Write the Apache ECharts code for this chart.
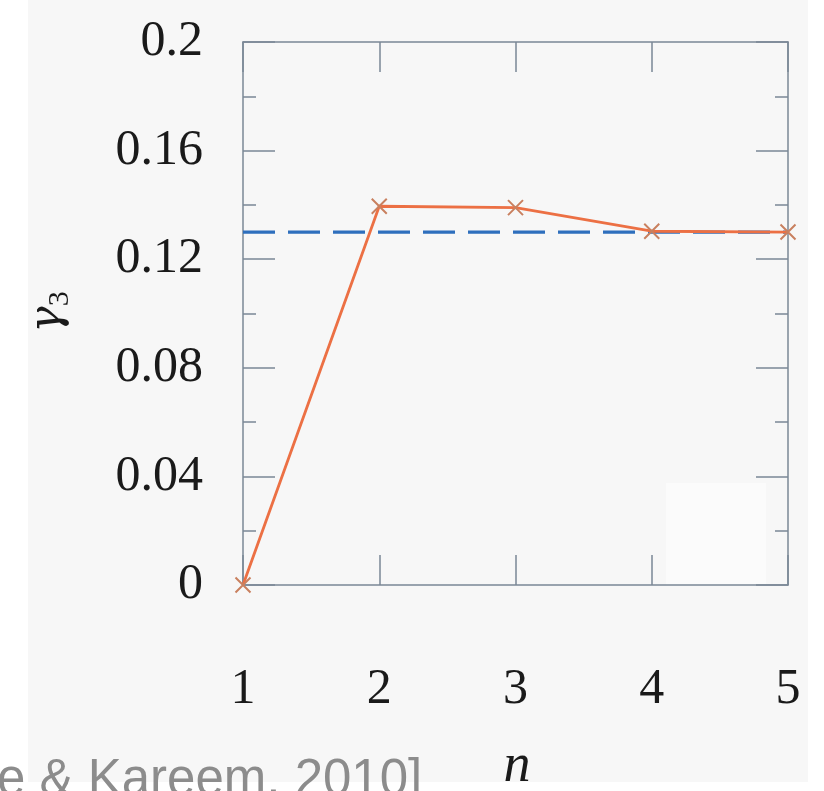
<!DOCTYPE html>
<html><head><meta charset="utf-8">
<script src="https://cdn.jsdelivr.net/npm/echarts@6/dist/echarts.min.js"></script>
<style>html,body{margin:0;padding:0;background:#fff}#c{width:824px;height:791px}</style>
</head><body><div id="c"></div>
<script>
const categories = [1, 2, 3, 4, 5];
const gammaValues = [0, 0.1395, 0.139, 0.1303, 0.1300];
const referenceValue = 0.13;
const xTickLabels = ['1', '2', '3', '4', '5'];
const yTickLabels = ['0', '0.04', '0.08', '0.12', '0.16', '0.2'];

const axisColor = '#7b8896';
const serif = '"Liberation Serif", "DejaVu Serif", serif';

const chart = echarts.init(document.getElementById('c'), null, { renderer: 'canvas' });

const xBase = {
  type: 'value', min: 1, max: 5, interval: 1,
  axisLine: { show: true, onZero: false, lineStyle: { color: axisColor, width: 1.5 } },
  axisTick: { show: true, inside: true, length: 30, lineStyle: { color: axisColor, width: 1.5 } },
  splitLine: { show: false }
};
const yBase = {
  type: 'value', min: 0, max: 0.2, interval: 0.04,
  axisLine: { show: true, onZero: false, lineStyle: { color: axisColor, width: 1.5 } },
  axisTick: { show: true, inside: true, length: 32, lineStyle: { color: axisColor, width: 1.5 } },
  minorTick: { show: true, splitNumber: 2, length: 13, lineStyle: { color: axisColor, width: 1.5 } },
  splitLine: { show: false }
};

const option = {
  backgroundColor: '#ffffff',
  animation: false,
  grid: { left: 243, right: 36, top: 42, bottom: 206, containLabel: false },
  xAxis: [
    Object.assign({}, xBase, {
      position: 'bottom',
      axisLabel: {
        show: true, margin: 80, color: '#1a1a1a', fontFamily: serif, fontSize: 50,
        formatter: (v) => xTickLabels[categories.indexOf(v)]
      }
    }),
    Object.assign({}, xBase, { position: 'top', axisLabel: { show: false } })
  ],
  yAxis: [
    Object.assign({}, yBase, {
      position: 'left',
      axisLabel: {
        show: true, margin: 40, color: '#1a1a1a', fontFamily: serif, fontSize: 50,
        formatter: (v, i) => yTickLabels[i]
      }
    }),
    Object.assign({}, yBase, { position: 'right', axisLabel: { show: false } })
  ],
  graphic: [
    { type: 'rect', z: -10, silent: true, shape: { x: 28, y: 0, width: 780, height: 782 }, style: { fill: '#f7f7f7' } },
    { type: 'rect', z: -9, silent: true, shape: { x: 666, y: 483, width: 100, height: 102 }, style: { fill: '#fbfbfb' } },
    {
      type: 'text', z: 10, x: 49, y: 312, rotation: Math.PI / 2,
      style: {
        text: '{g|γ}{s|3}', align: 'center', verticalAlign: 'middle',
        rich: {
          g: { fontFamily: '"DejaVu Serif", serif', fontStyle: 'italic', fontSize: 44, fill: '#1a1a1a' },
          s: { fontFamily: serif, fontSize: 30, fill: '#1a1a1a', padding: [22, 0, 0, 0] }
        }
      }
    },
    {
      type: 'text', z: 10, x: 517, y: 767,
      style: { text: 'n', align: 'center', verticalAlign: 'middle', fontFamily: serif, fontStyle: 'italic', fontSize: 54, fill: '#1a1a1a' }
    },
    {
      type: 'text', z: 10, x: -3, y: 806,
      style: { text: 'e & Kareem, 2010]', align: 'left', verticalAlign: 'bottom', fontFamily: '"Liberation Sans", Arial, sans-serif', fontSize: 51, fill: '#8c8c8c' }
    }
  ],
  series: [
    {
      type: 'line', name: 'reference',
      data: [[categories[0], referenceValue], [categories[categories.length - 1], referenceValue]],
      symbol: 'none', clip: false, z: 3,
      lineStyle: { color: '#2e6fbd', width: 3.2, type: [32, 13] }
    },
    {
      type: 'line', name: 'gamma3',
      data: categories.map((c, i) => [c, gammaValues[i]]),
      clip: false, z: 4,
      symbol: 'path://M0,0L10,10M10,0L0,10', symbolSize: 15, showSymbol: true,
      itemStyle: { color: 'rgba(0,0,0,0)', borderColor: '#c9805f', borderWidth: 2 },
      lineStyle: { color: '#ec7044', width: 2.8 }
    }
  ]
};
chart.setOption(option);
</script>
</body></html>
